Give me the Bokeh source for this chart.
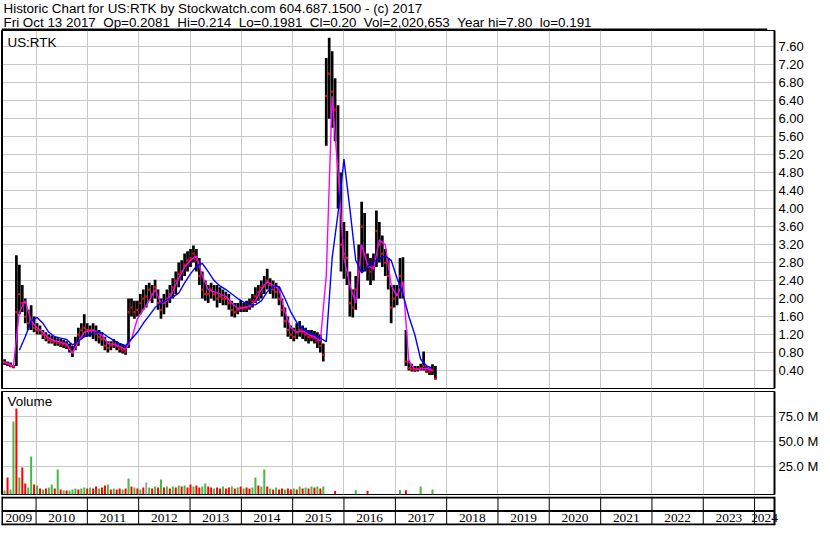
import pandas as pd
from bokeh.plotting import figure
from bokeh.layouts import column
from bokeh.models import (Range1d, FixedTicker, Grid, Label, Span, LabelSet,
                          PrintfTickFormatter, ColumnDataSource)
from bokeh.embed import file_html
from bokeh.resources import INLINE

FONT = "Liberation Sans"

# ---------------- data ----------------
title_line1 = "Historic Chart for US:RTK by Stockwatch.com 604.687.1500 - (c) 2017"
title_line2 = ("Fri Oct 13 2017\u00a0\u00a0Op=0.2081\u00a0\u00a0Hi=0.214\u00a0\u00a0Lo=0.1981"
               "\u00a0\u00a0Cl=0.20\u00a0\u00a0Vol=2,020,653\u00a0\u00a0Year hi=7.80\u00a0\u00a0lo=0.191")
symbol = "US:RTK"

first_date = "2009-05-01"
bar_step = "21D"

low = [0.55, 0.52, 0.50, 0.47, 0.45, 0.50, 1.65, 1.70, 1.45, 1.30,
       1.30, 1.25, 1.20, 1.20, 1.10, 1.05, 1.00, 1.00, 0.95, 0.95,
       0.92, 0.90, 0.88, 0.80, 0.70, 0.85, 0.95, 1.10, 1.15, 1.15,
       1.15, 1.10, 1.05, 1.00, 0.95, 0.85, 0.80, 0.85, 0.90, 0.85,
       0.80, 0.78, 0.75, 0.90, 1.60, 1.55, 1.60, 1.65, 1.75, 1.80,
       1.95, 1.90, 2.00, 1.75, 1.55, 1.65, 1.80, 1.90, 2.00, 2.10,
       2.25, 2.40, 2.50, 2.60, 2.70, 2.80, 2.60, 2.30, 2.00, 1.95,
       1.90, 2.00, 1.95, 1.80, 1.90, 1.85, 1.85, 1.75, 1.60, 1.58,
       1.65, 1.70, 1.70, 1.70, 1.75, 1.80, 1.90, 1.95, 2.00, 2.10,
       2.20, 2.10, 2.00, 2.00, 1.85, 1.60, 1.35, 1.15, 1.10, 1.05,
       1.10, 1.15, 1.10, 1.05, 1.00, 1.05, 1.00, 0.90, 0.80, 0.60,
       5.40, 6.00, 5.80, 5.50, 4.00, 2.60, 2.44, 2.30, 1.60, 1.58,
       1.75, 2.00, 2.60, 2.60, 2.40, 2.30, 2.40, 2.70, 2.80, 2.70,
       2.50, 2.20, 1.45, 1.80, 1.85, 2.00, 2.00, 0.50, 0.40, 0.38,
       0.37, 0.38, 0.40, 0.40, 0.35, 0.30, 0.30, 0.20]
high = [0.72, 0.65, 0.60, 0.58, 0.52, 2.96, 2.75, 2.30, 2.00, 1.75,
        1.85, 1.60, 1.45, 1.40, 1.30, 1.25, 1.20, 1.18, 1.15, 1.12,
        1.10, 1.08, 1.05, 1.00, 0.95, 1.15, 1.35, 1.45, 1.65, 1.45,
        1.40, 1.45, 1.40, 1.30, 1.25, 1.15, 1.05, 1.05, 1.10, 1.05,
        1.00, 0.98, 0.95, 2.00, 2.00, 1.95, 1.95, 2.10, 2.20, 2.30,
        2.35, 2.30, 2.42, 2.20, 2.00, 2.10, 2.20, 2.30, 2.45, 2.60,
        2.80, 2.85, 3.00, 3.05, 3.10, 3.18, 3.10, 2.90, 2.60, 2.40,
        2.30, 2.35, 2.30, 2.30, 2.25, 2.20, 2.15, 2.10, 1.95, 1.90,
        1.90, 1.95, 1.90, 1.95, 2.00, 2.10, 2.25, 2.30, 2.40, 2.50,
        2.66, 2.45, 2.40, 2.35, 2.25, 2.00, 1.80, 1.60, 1.40, 1.35,
        1.45, 1.50, 1.40, 1.35, 1.30, 1.30, 1.28, 1.25, 1.20, 1.00,
        7.35, 7.80, 7.50, 6.90, 6.30, 4.80, 3.70, 3.50, 2.60, 2.20,
        2.50, 3.20, 4.15, 3.90, 3.00, 2.90, 3.00, 3.96, 3.70, 3.40,
        3.10, 2.90, 2.30, 2.30, 2.30, 2.90, 2.92, 1.30, 0.62, 0.55,
        0.50, 0.50, 0.55, 0.82, 0.50, 0.45, 0.54, 0.50]
close = [0.60, 0.58, 0.55, 0.50, 0.48, 1.70, 2.10, 1.90, 1.60, 1.45,
         1.50, 1.35, 1.30, 1.30, 1.20, 1.12, 1.08, 1.05, 1.05, 1.02,
         1.00, 0.98, 0.95, 0.88, 0.80, 1.00, 1.20, 1.30, 1.35, 1.30,
         1.28, 1.30, 1.22, 1.15, 1.10, 0.95, 0.90, 0.95, 1.00, 0.95,
         0.88, 0.85, 0.82, 1.70, 1.80, 1.70, 1.75, 1.90, 2.00, 2.05,
         2.20, 2.10, 2.25, 1.90, 1.75, 1.90, 2.00, 2.10, 2.25, 2.40,
         2.55, 2.60, 2.75, 2.85, 2.90, 3.00, 2.85, 2.50, 2.20, 2.10,
         2.10, 2.20, 2.10, 2.00, 2.05, 2.00, 2.00, 1.90, 1.75, 1.70,
         1.75, 1.80, 1.78, 1.80, 1.85, 1.95, 2.05, 2.15, 2.25, 2.30,
         2.40, 2.30, 2.20, 2.15, 2.00, 1.75, 1.50, 1.30, 1.20, 1.15,
         1.25, 1.30, 1.25, 1.20, 1.15, 1.15, 1.12, 1.05, 0.95, 0.75,
         6.50, 7.00, 6.60, 6.20, 5.00, 3.20, 3.00, 2.90, 1.90, 1.80,
         2.20, 2.60, 3.60, 3.00, 2.70, 2.60, 2.70, 3.50, 3.20, 3.00,
         2.80, 2.50, 1.80, 2.00, 2.10, 2.50, 2.30, 0.60, 0.45, 0.43,
         0.42, 0.43, 0.45, 0.50, 0.40, 0.38, 0.40, 0.22]

# short moving average (magenta), one value every second bar
ma_short = [0.60, 0.56, 0.50, 1.70, 1.95, 1.50, 1.35, 1.25, 1.12, 1.06,
            1.03, 0.99, 0.78, 1.05, 1.25, 1.30, 1.27, 1.18, 1.00, 0.98,
            0.93, 0.87, 1.10, 1.55, 1.75, 1.95, 2.20, 1.90, 1.95, 2.15,
            2.45, 2.70, 2.85, 2.95, 2.50, 2.20, 2.15, 2.10, 2.05, 1.90,
            1.78, 1.80, 1.82, 1.95, 2.20, 2.37, 2.30, 2.20, 1.70, 1.35,
            1.25, 1.28, 1.20, 1.15, 1.05, 2.50, 6.50, 4.80, 2.90, 2.30,
            1.90, 3.20, 2.75, 2.65, 3.30, 3.20, 2.30, 2.05, 2.38, 0.60,
            0.43, 0.43, 0.45, 0.40]
# long moving average (blue), one value every second bar from the 7th bar
ma_long = [0.85, 1.15, 1.50, 1.58, 1.45, 1.25, 1.15, 1.12, 1.09, 0.97,
           1.05, 1.15, 1.20, 1.25, 1.24, 1.15, 1.07, 1.00, 0.95, 1.10,
           1.25, 1.45, 1.62, 1.80, 1.90, 1.97, 2.03, 2.12, 2.35, 2.55,
           2.72, 2.78, 2.60, 2.40, 2.28, 2.20, 2.10, 2.00, 1.92, 1.87,
           1.86, 1.95, 2.15, 2.27, 2.27, 2.00, 1.70, 1.47, 1.33, 1.25,
           1.20, 1.12, 1.04, 2.90, 3.90, 5.10, 4.00, 2.85, 2.57, 2.70,
           2.82, 2.88, 2.95, 2.85, 2.45, 2.10, 1.60, 1.20, 0.65, 0.50,
           0.45]

# volume in millions, per bar, with up/down colour code
volume = [2, 1, 14, 2, 70, 83, 14, 24, 8, 4,
          35, 7, 6, 3, 2, 3, 4, 7, 3, 22,
          2, 1, 1, 1, 2, 3, 2, 3, 4, 3,
          4, 3, 5, 3, 4, 6, 7, 2, 3, 2,
          3, 2, 3, 13, 5, 4, 3, 2, 4, 9,
          4, 3, 5, 4, 12, 4, 5, 3, 5, 4,
          6, 5, 6, 4, 7, 5, 6, 4, 5, 8,
          5, 4, 3, 4, 3, 5, 3, 4, 5, 3,
          4, 5, 3, 4, 3, 4, 14, 6, 5, 22,
          5, 3, 2, 4, 2, 3, 2, 3, 2, 3,
          2, 5, 3, 4, 3, 5, 4, 5, 3, 5,
          0, 0, 0, 0.6, 0, 0, 0, 0, 0, 0,
          1.2, 0, 0, 0, 0.8, 0, 0, 0, 0, 0,
          0, 0, 0, 0, 0, 1.5, 0, 1.2, 0, 0,
          0, 0, 5, 0, 0, 0, 2, 0]
vol_dir = ("rgrggrgrrg" "grgrgrggrg" "rgrgggrggr" "grrgrrgrgr"
           "rgrgrgrgrk" "grgrgrgrgr" "grgrrgrrgg" "rrgrrgrrgr"
           "grgrrggrgg" "rgrgrrgrrg" "rgrgrgrgrg" "rrrrrrrrrr"
           "grrrrrrrrr" "rrrrrgrrrr" "rrgrrrgr")

price_ticks = [0.40, 0.80, 1.20, 1.60, 2.00, 2.40, 2.80, 3.20, 3.60, 4.00,
               4.40, 4.80, 5.20, 5.60, 6.00, 6.40, 6.80, 7.20, 7.60]
volume_ticks = [25, 50, 75]
volume_tick_labels = {25: "25.0 M", 50: "50.0 M", 75: "75.0 M"}
years = list(range(2009, 2025))

# ---------------- layout constants ----------------
W = 814
FW = 773
RB = 40
GRID = "#c8c8c8"
LABEL_PX = 30  # approx width of a year label
STRIP_H = 29

def ms(d):
    return pd.Timestamp(d).value / 1e6

dates = pd.date_range(first_date, periods=len(high), freq=bar_step)
bar_ms = pd.Timedelta(bar_step).value / 1e6
x_start = ms("2009-04-30")
x_end = ms("2024-05-22")
xr = Range1d(start=x_start, end=x_end)
year_bounds = [ms(f"{y}-01-01") for y in years[1:]]
ms_per_px = (x_end - x_start) / FW

def base(height_frame, top, bottom, **kw):
    p = figure(frame_width=FW, frame_height=height_frame, x_range=xr,
               x_axis_type="datetime", x_axis_location=None,
               y_axis_location="right", toolbar_location=None,
               output_backend="svg", min_border_left=1,
               min_border_right=RB, min_border_top=top,
               min_border_bottom=bottom, background_fill_color="white",
               border_fill_color="white", outline_line_color="black",
               **kw)
    p.center = [r for r in p.center if not isinstance(r, Grid)]
    p.add_layout(Span(location=x_start, dimension="height", line_color="black",
                      line_width=3))
    return p

def style_axis(ax, ticks):
    ax.ticker = FixedTicker(ticks=ticks)
    ax.axis_line_color = "black"
    ax.axis_line_width = 2
    ax.major_tick_line_color = None
    ax.minor_tick_line_color = None
    ax.major_tick_out = 0
    ax.major_tick_in = 0
    ax.major_label_standoff = 4
    ax.major_label_text_font = FONT
    ax.major_label_text_font_size = "13px"
    ax.major_label_text_color = "black"

# ---------------- header ----------------
hdr = figure(width=W, height=30, x_range=Range1d(0, W), y_range=Range1d(0, 30),
             toolbar_location=None, output_backend="svg", min_border=0,
             x_axis_location=None, y_axis_location=None,
             outline_line_color=None, border_fill_color="white")
hdr.center = [r for r in hdr.center if not isinstance(r, Grid)]
hdr.add_layout(Label(x=2, y=30, x_units="screen", y_units="screen", text=title_line1,
                     text_baseline="top", text_font=FONT, text_font_size="13.4px",
                     text_color="black"))
hdr.add_layout(Label(x=2, y=15.5, x_units="screen", y_units="screen", text=title_line2,
                     text_baseline="top", text_font=FONT, text_font_size="13.4px",
                     text_color="black"))
hdr.add_layout(Span(location=1, dimension="width", line_color="black", line_width=2))

# ---------------- price panel ----------------
pp = base(358, 0, 2, y_range=Range1d(0, 7.96))
style_axis(pp.yaxis[0], price_ticks)
pp.yaxis[0].formatter = PrintfTickFormatter(format="%.2f")
pp.add_layout(Grid(dimension=0, ticker=FixedTicker(ticks=year_bounds), grid_line_color=GRID))
pp.add_layout(Grid(dimension=1, ticker=FixedTicker(ticks=price_ticks), grid_line_color=GRID))

src = ColumnDataSource(dict(x=dates, low=low, high=high, close=close))
pp.segment(x0="x", y0="low", x1="x", y1="high", source=src, line_color="black", line_width=2.7)
pp.scatter(x="x", y="close", source=src, marker="square", size=2.2,
           fill_color="#ff0000", line_color=None)
pp.line(x=dates[::2][:len(ma_short)], y=ma_short, line_color="#ff00ff", line_width=1.4)
pp.line(x=dates[6::2][:len(ma_long)], y=ma_long, line_color="#0000ff", line_width=1.4)
pp.add_layout(Label(x=6, y=346, x_units="screen", y_units="screen", text=symbol,
                    text_baseline="middle", text_font=FONT, text_font_size="13.4px",
                    text_color="black"))

# ---------------- volume panel ----------------
vp = base(103, 1, 1, y_range=Range1d(-3, 100))
style_axis(vp.yaxis[0], volume_ticks)
vp.yaxis[0].major_label_overrides = volume_tick_labels
vp.add_layout(Grid(dimension=0, ticker=FixedTicker(ticks=year_bounds), grid_line_color=GRID))
vp.add_layout(Grid(dimension=1, ticker=FixedTicker(ticks=volume_ticks), grid_line_color=GRID))
cmap = {"r": "#ff0000", "g": "#44bb44", "k": "#a0a0a0"}
vx, vv, vc = [], [], []
for d, v, c in zip(dates, volume, vol_dir):
    if v > 0:
        vx.append(d); vv.append(v); vc.append(cmap[c])
vp.vbar(x=vx, top=vv, bottom=-3, width=bar_ms * 0.68, fill_color=vc, line_color=None)
vp.add_layout(Label(x=6, y=93, x_units="screen", y_units="screen", text="Volume",
                    text_baseline="middle", text_font=FONT, text_font_size="13.4px",
                    text_color="black"))

# ---------------- year strip (frame extends under the right margin) ----------------
xp = figure(frame_width=FW + RB, frame_height=STRIP_H,
            x_range=Range1d(x_start, x_end + RB * ms_per_px),
            y_range=Range1d(0, STRIP_H), toolbar_location=None,
            output_backend="svg", min_border_left=1, min_border_right=0,
            min_border_top=1, min_border_bottom=1,
            x_axis_location=None, y_axis_location=None,
            outline_line_color=None, border_fill_color="white")
xp.center = [r for r in xp.center if not isinstance(r, Grid)]
nb = len(year_bounds)
xp.segment(x0=year_bounds, y0=[14.5] * nb, x1=year_bounds, y1=[STRIP_H] * nb,
           line_color="black", line_width=1)
xp.segment(x0=year_bounds, y0=[1] * nb, x1=year_bounds, y1=[14.5] * nb,
           line_color="black", line_width=1)
hl = [STRIP_H - 1, 14.5, 1]
xp.segment(x0=[x_start] * 3, y0=hl, x1=[x_end] * 3, y1=hl, line_color="black", line_width=2)
xp.segment(x0=[x_end], y0=[0], x1=[x_end], y1=[STRIP_H], line_color="black", line_width=2)
xp.segment(x0=[x_start], y0=[0], x1=[x_start], y1=[STRIP_H], line_color="black", line_width=3)
mids = []
for y in years:
    a = max(ms(f"{y}-01-01"), x_start)
    b = min(ms(f"{y + 1}-01-01"), x_end)
    mids.append((a + b) / 2)
ysrc = ColumnDataSource(dict(x=mids, y=[7.5] * len(years), t=[str(y) for y in years]))
xp.add_layout(LabelSet(x="x", y="y", text="t", source=ysrc, text_align="center",
                       text_baseline="middle", text_font=FONT,
                       text_font_size="13.4px", text_color="black"))

layout = column(hdr, pp, vp, xp, spacing=0)
open("out.html", "w").write(file_html(layout, INLINE))
